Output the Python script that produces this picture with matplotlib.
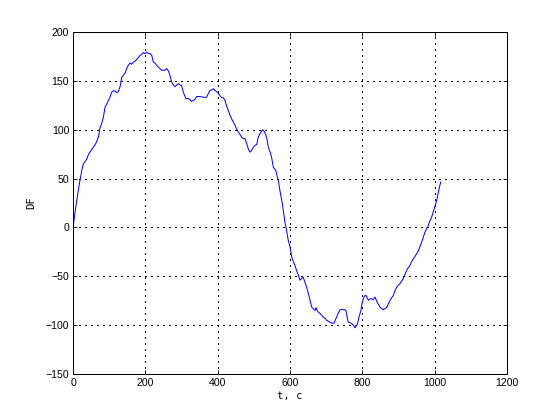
import numpy as np
import matplotlib
matplotlib.use("Agg")
import matplotlib.pyplot as plt

# values
t = [0, 5, 12, 19, 24, 28.5, 34, 38, 43, 47, 52, 56, 63, 70, 74.6, 79, 84, 88.5,
     93, 97.7, 102, 107, 112, 116, 121, 125, 130, 134.6, 139, 144, 148, 153,
     157.6, 162, 166.7, 171, 176, 181, 185, 190, 194, 199, 203.7, 208, 213,
     217.7, 222, 227, 231, 236, 240.5, 245, 249.7, 255, 259, 264, 268, 273, 277,
     282, 287, 291, 296, 300, 305, 312, 318, 323, 328, 332.6, 337, 342, 350, 358,
     364, 369.6, 374, 378.8, 384, 388, 393, 397, 402, 406, 411, 415.6, 420, 425,
     429, 434, 438.6, 443, 448, 452, 457, 462, 466, 471, 475.5, 480, 484.7, 489,
     494, 498.5, 503, 508, 512, 517, 524, 529, 533.6, 537, 540, 545, 549, 553.8,
     557, 561, 564, 567.6, 572, 575, 578.7, 582, 586, 590, 595, 600, 604.6, 609,
     613.8, 618, 623, 627.6, 632, 636.7, 641, 646, 653, 660, 664, 669, 672, 676,
     683, 688, 692, 697, 701, 706, 710.5, 716, 721.6, 725, 729, 733, 738, 743,
     747, 751, 754.8, 758, 761, 766, 770.5, 775, 779.6, 783, 786, 790.7, 796,
     799, 802.6, 806, 810, 813, 816.5, 821, 825.8, 830, 835, 838, 841, 845,
     848.8, 853, 858, 862, 867, 872, 876.4, 881, 885.6, 890, 895, 900, 904, 908,
     913, 918, 922.6, 927, 931.7, 936, 941, 945, 950, 955, 959, 964, 968.5, 973,
     977.8, 982, 987, 992, 996, 1001, 1005.5, 1010, 1013, 1016.6]
df = [0, 14, 32, 48, 58, 65, 68, 70, 75, 77, 80, 82, 86, 92, 102, 106, 113, 123,
      126, 130, 133, 138.5, 140, 139.5, 138, 139, 144, 153.8, 155.6, 158, 162.5,
      166, 168.3, 167, 169.3, 170, 171.8, 174, 176, 177, 179, 178, 179.5, 178,
      178, 176, 169.3, 168, 166, 164, 162.5, 161, 160.7, 161, 162.5, 160, 155.6,
      148.7, 146, 144, 146, 147, 146, 145, 138.5, 131.7, 132, 131, 129, 130, 131,
      134, 134, 133.5, 133, 133.4, 137, 140.2, 141, 142, 140, 139, 137, 135, 133,
      132.7, 130, 124, 119.8, 115, 111, 108, 104.4, 101, 97.5, 95, 92.4, 91, 90.8,
      86, 80.5, 77, 79, 82, 84, 85, 92.4, 96, 100, 98, 94, 89, 82, 77, 72, 61.7,
      60, 58, 53, 48, 37.9, 32, 24.2, 16, 5, -2, -13, -20, -30, -35, -38.9, -44,
      -49, -54, -52, -51, -56, -61, -71, -81.6, -83, -85, -82, -86, -88, -90,
      -91.8, -93, -95, -96, -96.9, -98, -97.9, -95, -91.8, -88, -84.3, -84,
      -84.3, -84, -85, -92, -97, -97.5, -98.6, -100, -102.7, -101, -99.3, -91.8,
      -85, -78, -73, -70, -69.6, -72, -74.7, -73, -73, -74, -71.3, -74, -76.5,
      -79, -81.6, -83, -84.3, -83, -82, -78, -74.7, -72, -69.6, -65, -61, -59,
      -57.6, -55, -52.5, -48, -44, -41, -38.9, -35, -32, -30, -27, -24, -20,
      -15, -9.9, -5, -1.4, 2, 7, 11, 16, 22, 27.6, 36, 41, 46.4]

xticks = [0, 200, 400, 600, 800, 1000, 1200]
yticks = [-150, -100, -50, 0, 50, 100, 150, 200]

plt.rcParams['font.family'] = ['Liberation Sans', 'DejaVu Sans']
plt.rcParams['font.size'] = 9.5

fig = plt.figure(figsize=(7, 5.25), dpi=80)
ax = fig.add_axes([0.1304, 0.1095, 0.775, 0.8143])
ax.plot(t, df, color='#0000ff', lw=0.9)

ax.set_xlim(0, 1200)
ax.set_ylim(-150, 200)
ax.set_xticks(xticks)
ax.set_yticks(yticks)
ax.grid(True, color='black', linestyle=(0, (1, 4)), lw=0.9, antialiased=False)
ax.tick_params(direction='in', top=True, right=True, length=4, width=0.8)
for s in ax.spines.values():
    s.set_linewidth(0.9)

ax.set_xlabel('t, c', family='DejaVu Sans Mono', fontsize=9.5, labelpad=3)
ax.set_ylabel('DF', family='DejaVu Sans Mono', fontsize=9.5, labelpad=8)

fig.savefig('out.png', dpi=80)
